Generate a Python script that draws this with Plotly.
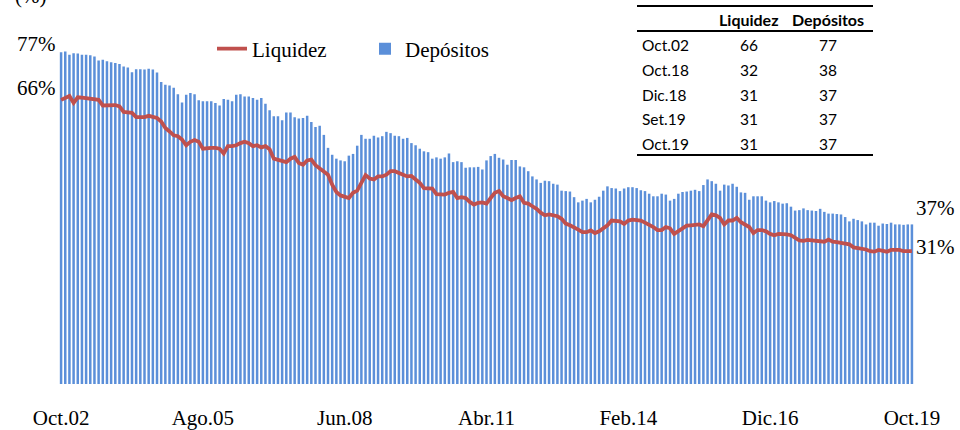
import plotly.graph_objects as go

MONTHS = ["Ene", "Feb", "Mar", "Abr", "May", "Jun", "Jul", "Ago", "Set", "Oct", "Nov", "Dic"]

depositos = [
    76.7, 76.9, 76.1, 76.5, 76.4, 76.1, 76.1, 76.0, 75.7, 74.8, 75.0, 74.6, 74.4, 74.2, 74.0, 73.4, 73.2, 72.1, 72.8, 72.8,
    72.7, 72.9, 72.7, 72.0, 69.8, 69.2, 69.0, 68.5, 67.0, 65.1, 66.9, 67.3, 67.0, 65.6, 65.4, 65.4, 65.4, 65.0, 64.4, 65.9,
    65.7, 65.4, 66.9, 67.0, 66.5, 66.5, 66.1, 65.7, 66.1, 64.8, 63.3,
    61.9, 61.9, 61.0, 62.8, 62.8, 61.7, 61.4, 61.5, 62.0, 60.6, 59.4, 59.7, 57.6, 54.6, 53.0, 52.1, 51.7, 51.5, 52.8, 53.2,
    55.1, 57.6, 56.7, 56.7, 57.4, 57.0, 57.3, 58.3, 58.0, 57.4, 57.3, 56.7, 56.9, 55.7, 55.2, 54.4, 53.8, 53.6, 52.1, 52.4,
    52.1, 52.4, 53.3, 51.3, 51.5, 51.3, 50.0, 50.1, 50.1, 50.2,
    49.6, 51.7, 52.7, 53.2, 52.3, 51.9, 50.7, 51.8, 51.8, 50.3, 50.1, 49.2, 48.0, 47.3, 46.5, 47.0, 46.9, 46.3, 46.1, 44.7,
    44.6, 44.5, 43.2, 42.0, 42.4, 42.8, 42.0, 42.6, 43.3, 44.7, 45.7, 45.3, 45.2, 44.6, 45.2, 45.5, 45.5, 45.3, 44.8, 44.6,
    44.0, 43.4, 43.4, 44.0, 43.8, 42.4, 42.8, 44.0, 44.4, 44.5,
    44.7, 44.9, 44.6, 46.0, 47.3, 46.9, 46.3, 44.7, 46.1, 45.9, 46.3, 45.6, 44.3, 44.2, 42.6, 43.4, 43.4, 43.4, 42.4, 42.0,
    42.3, 42.0, 41.7, 41.8, 41.0, 40.1, 40.2, 40.6, 40.2, 40.1, 40.0, 40.5, 39.8, 39.4, 39.4, 39.3, 39.2, 38.6, 37.6, 38.2,
    37.9, 37.6, 36.9, 37.3, 37.3, 36.6, 37.1, 37.0, 37.3, 36.9, 36.9, 36.8, 36.9, 36.9,
]

liquidez = [
    65.7, 66.2, 66.6, 65.0, 66.3, 66.2, 66.1, 66.0, 66.0, 65.7, 64.4, 64.5, 64.6, 64.5, 64.2, 62.9, 62.8, 62.7, 61.7, 61.7,
    61.7, 62.0, 61.7, 61.5, 60.7, 59.2, 58.4, 57.5, 57.3, 56.5, 55.2, 56.0, 56.4, 56.0, 54.4, 54.6, 54.6, 54.6, 54.4, 53.3,
    55.0, 55.0, 55.2, 55.7, 56.0, 55.7, 55.0, 55.2, 54.7, 55.0, 54.3,
    52.1, 51.9, 51.7, 51.3, 52.1, 52.5, 51.1, 50.7, 51.7, 51.9, 50.6, 49.8, 49.2, 48.4, 46.1, 44.4, 43.6, 43.2, 43.0, 44.2,
    44.7, 46.5, 48.3, 47.5, 47.3, 48.0, 48.0, 48.4, 49.2, 49.2, 48.7, 48.4, 48.0, 48.1, 47.3, 46.5, 45.3, 45.2, 45.2, 43.9,
    43.9, 43.8, 44.2, 44.4, 43.0, 43.2, 43.0, 42.1, 41.5, 41.9,
    42.0, 41.7, 43.0, 44.2, 44.6, 43.4, 43.0, 42.5, 43.0, 43.4, 41.9, 41.7, 41.1, 40.5, 39.6, 39.0, 39.2, 39.0, 38.8, 38.2,
    37.1, 36.7, 36.3, 35.7, 35.1, 35.1, 35.5, 34.9, 35.3, 36.0, 36.7, 37.8, 37.7, 37.6, 37.0, 37.8, 38.0, 37.9, 37.8, 37.3,
    36.9, 36.3, 35.6, 35.6, 36.3, 36.0, 34.7, 35.3, 36.1, 36.6,
    36.7, 36.9, 36.9, 36.5, 38.0, 39.2, 39.0, 38.4, 36.9, 37.8, 37.8, 38.4, 37.4, 36.9, 36.3, 34.9, 35.6, 35.6, 35.3, 34.7,
    34.4, 34.7, 34.7, 34.6, 34.4, 33.8, 33.2, 33.1, 33.3, 33.2, 33.1, 33.1, 32.9, 33.4, 32.9, 32.8, 32.6, 32.6, 32.3, 31.6,
    31.5, 31.3, 31.1, 30.7, 30.6, 31.0, 30.7, 30.6, 31.0, 31.0, 31.0, 30.7, 30.6, 30.7,
]

# monthly categories Oct.02 .. Oct.19
start_month, start_year = 10, 2002
periodos = []
for k in range(len(depositos)):
    m = (start_month - 1 + k) % 12
    y = start_year + (start_month - 1 + k) // 12
    periodos.append(f"{MONTHS[m]}.{y % 100:02d}")

tick_labels = ["Oct.02", "Ago.05", "Jun.08", "Abr.11", "Feb.14", "Dic.16", "Oct.19"]

table_header = ["Liquidez", "Depósitos"]
table_rows = ["Oct.02", "Oct.18", "Dic.18", "Set.19", "Oct.19"]
table_liq = [66, 32, 31, 31, 31]
table_dep = [77, 38, 37, 37, 37]

left_labels = ["77%", "66%"]
right_labels = ["37%", "31%"]

# plot area in pixels
L, R, T, B = 59, 914, 38, 384
W, H = 960, 430
PW, PH = R - L, B - T
YMAX = 80


def px(x):
    return (x - L) / PW


def py(y):
    return (B - y) / PH


SERIF = "Liberation Serif"
SANS = "Lato"

fig = go.Figure()
fig.add_trace(go.Bar(
    x=periodos, y=depositos, name="Depósitos",
    marker=dict(color="#5b8fd9", line=dict(width=0)),
    legendrank=2,
))
fig.add_trace(go.Scatter(
    x=periodos, y=liquidez, name="Liquidez", mode="lines",
    line=dict(color="#c0504d", width=3.8),
    legendrank=1,
))

fig.update_layout(
    width=W, height=H,
    margin=dict(l=L, r=W - R, t=T, b=H - B),
    paper_bgcolor="white", plot_bgcolor="white",
    bargap=0.4,
    showlegend=True,
    legend=dict(
        orientation="h", x=px(212), y=py(49), xanchor="left", yanchor="middle",
        font=dict(family=SERIF, size=21, color="#000"),
        bgcolor="rgba(0,0,0,0)", entrywidth=108, entrywidthmode="pixels",
    ),
    xaxis=dict(
        type="category", range=[-0.5, len(periodos) - 0.5],
        tickmode="array", tickvals=tick_labels, ticktext=tick_labels,
        tickfont=dict(family=SERIF, size=21, color="#000"),
        showgrid=False, showline=False, zeroline=False, ticks="",
        ticklabelstandoff=19, automargin=False,
    ),
    yaxis=dict(
        range=[0, YMAX], visible=False, showgrid=False, zeroline=False,
        automargin=False,
    ),
)

annotations = []
annotations.append(dict(xref="paper", yref="paper", x=px(30), y=py(-4), text="(%)",
                        showarrow=False, font=dict(family=SERIF, size=21, color="#000"),
                        xanchor="center", yanchor="middle"))
for lab, ypx in zip(left_labels, [44, 88]):
    annotations.append(dict(xref="paper", yref="paper", x=px(36), y=py(ypx), text=lab,
                            showarrow=False, font=dict(family=SERIF, size=21, color="#000"),
                            xanchor="center", yanchor="middle"))
for lab, ypx in zip(right_labels, [208, 247]):
    annotations.append(dict(xref="paper", yref="paper", x=px(935), y=py(ypx), text=lab,
                            showarrow=False, font=dict(family=SERIF, size=21, color="#000"),
                            xanchor="center", yanchor="middle"))

# table
col_x = [749, 828]
for h, cx in zip(table_header, col_x):
    annotations.append(dict(xref="paper", yref="paper", x=px(cx), y=py(19), text=f"<b>{h}</b>",
                            showarrow=False, font=dict(family=SANS, size=16, color="#000"),
                            xanchor="center", yanchor="middle"))
row_y = [44.5, 69.5, 94.5, 119, 144]
for lab, lq, dp, ry in zip(table_rows, table_liq, table_dep, row_y):
    annotations.append(dict(xref="paper", yref="paper", x=px(640), y=py(ry), text=lab,
                            showarrow=False, font=dict(family=SANS, size=15.5, color="#000"),
                            xanchor="left", yanchor="middle"))
    annotations.append(dict(xref="paper", yref="paper", x=px(col_x[0]), y=py(ry), text=str(lq),
                            showarrow=False, font=dict(family=SANS, size=15.5, color="#000"),
                            xanchor="center", yanchor="middle"))
    annotations.append(dict(xref="paper", yref="paper", x=px(col_x[1]), y=py(ry), text=str(dp),
                            showarrow=False, font=dict(family=SANS, size=15.5, color="#000"),
                            xanchor="center", yanchor="middle"))

shapes = []
for ly in [6, 31, 155]:
    shapes.append(dict(type="line", xref="paper", yref="paper",
                       x0=px(637), x1=px(873), y0=py(ly), y1=py(ly),
                       line=dict(color="#000", width=2)))

fig.update_layout(annotations=annotations, shapes=shapes)

fig.write_html("out.html", config={"displayModeBar": False},
               post_script="document.body.style.margin='0';")
